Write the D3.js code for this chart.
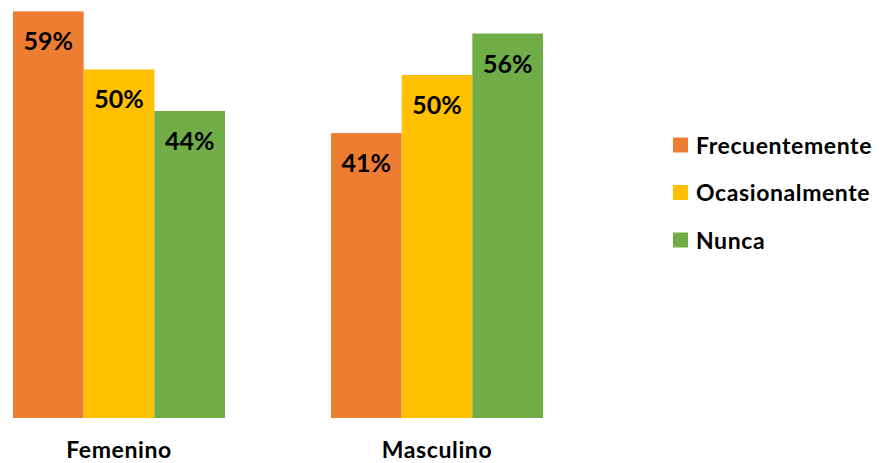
<!DOCTYPE html>
<html>
<head>
<meta charset="utf-8">
<script src="https://cdn.jsdelivr.net/npm/d3@7"></script>
<style>
  html, body { margin: 0; padding: 0; background: #fff; }
  svg { display: block; font-family: Lato, Carlito, Calibri, sans-serif; font-weight: bold; }
</style>
</head>
<body>
<svg id="chart" width="881" height="463"></svg>
<script>
const categories = ["Femenino", "Masculino"];
const seriesNames = ["Frecuentemente", "Ocasionalmente", "Nunca"];
const frecuentemente = [58.8, 41.2];
const ocasionalmente = [50.4, 49.6];
const nunca = [44.4, 55.6];
const colors = ["#ED7D31", "#FFC000", "#70AD47"];

const seriesValues = [frecuentemente, ocasionalmente, nunca];
const data = categories.map((c, i) => ({
  category: c,
  values: seriesNames.map((s, j) => ({ series: s, value: seriesValues[j][i], color: colors[j] }))
}));

const svg = d3.select("#chart");
const baseline = 418;

const x0 = d3.scaleBand().domain(categories).range([13 - 53, 543 + 53]).paddingInner(106/318).paddingOuter(53/318);
const x1 = d3.scaleBand().domain(seriesNames).range([0, x0.bandwidth()]).padding(0);
const y = d3.scaleLinear().domain([0, 60]).range([baseline, baseline - 6.915 * 60]);

const groups = svg.selectAll("g.group").data(data).enter().append("g")
  .attr("class", "group")
  .attr("transform", d => `translate(${x0(d.category)},0)`);

groups.selectAll("rect").data(d => d.values).enter().append("rect")
  .attr("x", d => x1(d.series))
  .attr("y", d => y(d.value))
  .attr("width", x1.bandwidth())
  .attr("height", d => baseline - y(d.value))
  .attr("fill", d => d.color);

groups.selectAll("text.lbl").data(d => d.values).enter().append("text")
  .attr("class", "lbl")
  .attr("x", d => x1(d.series) + x1.bandwidth() / 2)
  .attr("y", d => y(d.value) + 39)
  .attr("text-anchor", "middle")
  .attr("font-size", 25)
  .attr("fill", "#000")
  .text(d => Math.round(d.value) + "%");

const xAxis = d3.axisBottom(x0).tickSize(0).tickPadding(0);
const ax = svg.append("g").attr("transform", `translate(0,${baseline})`).call(xAxis);
ax.select(".domain").remove();
ax.selectAll("text")
  .attr("y", 40)
  .attr("dy", 0)
  .attr("font-size", 23)
  .attr("letter-spacing", "0.6px")
  .attr("font-family", "Lato, Carlito, Calibri, sans-serif")
  .attr("font-weight", "bold")
  .attr("fill", "#000");

const legend = svg.append("g").attr("transform", "translate(673,0)");
const ly = d3.scalePoint().domain(seriesNames).range([145, 240]);
seriesNames.forEach((s, j) => {
  legend.append("rect").attr("x", 0).attr("y", ly(s) - 7.5).attr("width", 15).attr("height", 15).attr("fill", colors[j]);
  legend.append("text").attr("x", 23).attr("y", ly(s) + 8.5).attr("font-size", 23)
    .attr("letter-spacing", "0.6px").attr("fill", "#000").text(s);
});
</script>
</body>
</html>
